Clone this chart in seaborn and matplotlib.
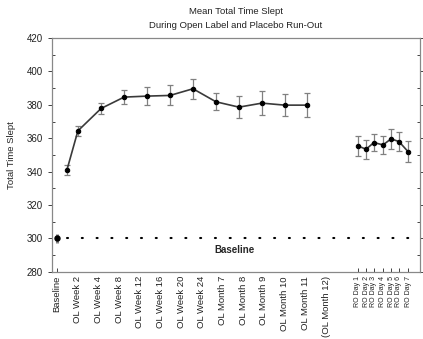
import numpy as np
import pandas as pd
import matplotlib
matplotlib.use("Agg")
import matplotlib.pyplot as plt
import seaborn as sns

# -----------------------------
# Data
# -----------------------------
ol_labels = ["Baseline", "OL Week 2", "OL Week 4", "OL Week 8", "OL Week 12",
             "OL Week 16", "OL Week 20", "OL Week 24", "OL Month 7",
             "OL Month 8", "OL Month 9", "OL Month 10", "OL Month 11",
             "(OL Month 12)"]
ro_labels = ["RO Day 1", "RO Day 2", "RO Day 3", "RO Day 4",
             "RO Day 5", "RO Day 6", "RO Day 7"]

# open label visits (x in visit-slot units)
ol_x = [0.48, 1.01, 2.13, 3.24, 4.35, 5.46, 6.57, 7.68, 8.79, 9.90, 11.0, 12.1]
ol_mean = [341, 364.4, 377.8, 384.6, 385.2, 385.6, 389.6, 381.8, 378.6,
           381.0, 379.8, 379.8]
ol_err = [3.0, 3.0, 3.4, 4.0, 5.5, 6.0, 6.0, 5.0, 6.5, 7.0, 6.5, 7.0]

# placebo run-out days
ro_x = [14.54, 14.93, 15.31, 15.75, 16.14, 16.52, 16.96]
ro_mean = [355.4, 353.4, 357.4, 356.0, 359.6, 358.0, 352.0]
ro_err = [5.8, 5.7, 5.3, 5.6, 6.0, 5.7, 6.2]

baseline_mean = 300
baseline_err = 2.6

ol_df = pd.DataFrame({"x": ol_x, "tts": ol_mean, "err": ol_err})
ro_df = pd.DataFrame({"x": ro_x, "tts": ro_mean, "err": ro_err})

# -----------------------------
# Figure
# -----------------------------
sns.set_theme(style="ticks")
plt.rcParams["font.family"] = ["Liberation Sans", "DejaVu Sans"]

fig = plt.figure(figsize=(4.23, 3.39), dpi=100)
ax = fig.add_axes([0.123, 0.198, 0.870, 0.690])

line_col = "#3a3a3a"
err_col = "#808080"

for d in (ol_df, ro_df):
    ax.errorbar(d["x"], d["tts"], yerr=d["err"], fmt="none", ecolor=err_col,
                elinewidth=0.9, capsize=2.2, capthick=0.9, zorder=2)
    sns.lineplot(data=d, x="x", y="tts", ax=ax, color=line_col, lw=1.2,
                 marker="o", markersize=3.2, markerfacecolor="black",
                 markeredgecolor="black", zorder=3)

# baseline reference
ax.errorbar([0], [baseline_mean], yerr=[baseline_err], fmt="o",
            color="black", mfc="black", mec="black", ms=3.6,
            ecolor=err_col, elinewidth=2.2, capsize=0, zorder=4)
ax.plot([0.48, 17.3], [baseline_mean, baseline_mean], color="black",
        lw=1.5, ls=(0, (0.5, 6.6)), dash_capstyle="round", zorder=2)
ax.text(8.6, 293, "Baseline", fontsize=7, fontweight="bold",
        ha="center", va="center")

# axes
ax.set_xlim(-0.24, 17.54)
ax.set_ylim(280, 420)
ax.set_yticks(np.arange(280, 421, 20))
ax.set_yticks(np.arange(290, 420, 20), minor=True)

ol_ticks = list(range(len(ol_labels)))
ax.set_xticks(ol_ticks + ro_x)
ax.set_xticklabels(ol_labels + ro_labels, rotation=90)
for lab in ax.get_xticklabels()[:len(ol_labels)]:
    lab.set_fontsize(6.8)
for lab in ax.get_xticklabels()[len(ol_labels):]:
    lab.set_fontsize(5)
for i, t in enumerate(ax.xaxis.get_major_ticks()):
    if 0 < i < len(ol_labels):
        t.tick1line.set_visible(False)

ax.tick_params(axis="x", direction="in", length=3, width=0.6, pad=3,
               colors="#222222")
ax.tick_params(axis="y", which="major", direction="out", length=3,
               width=0.6, labelsize=7, colors="#222222", right=True)
ax.tick_params(axis="y", which="minor", direction="in", length=2,
               width=0.6, right=True)

for s in ax.spines.values():
    s.set_color("#888888")
    s.set_linewidth(0.9)

ax.set_xlabel("")
ax.set_ylabel("Total Time Slept", fontsize=6.8, color="#222222", labelpad=8)
fig.text(0.558, 0.965, "Mean Total Time Slept", ha="center", va="center",
         fontsize=6.8, color="#222222")
fig.text(0.558, 0.925, "During Open Label and Placebo Run-Out", ha="center",
         va="center", fontsize=6.8, color="#222222")

fig.savefig("out.png", dpi=100)
